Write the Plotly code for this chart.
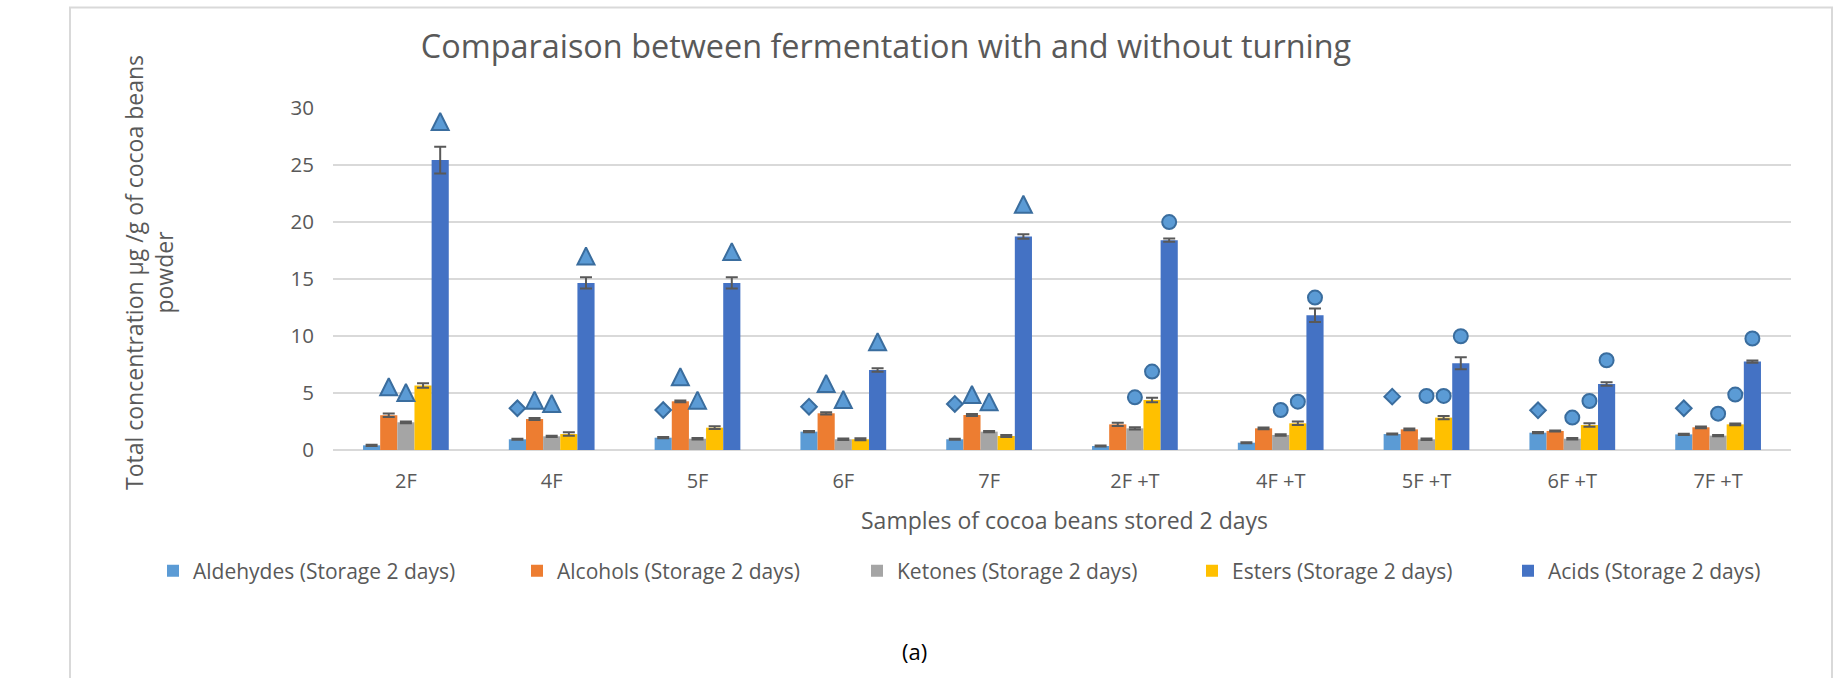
import plotly.graph_objects as go

# ---- data -------------------------------------------------------------
samples = ["2F", "4F", "5F", "6F", "7F", "2F +T", "4F +T", "5F +T", "6F +T", "7F +T"]

series_names = [
    "Aldehydes (Storage 2 days)",
    "Alcohols (Storage 2 days)",
    "Ketones (Storage 2 days)",
    "Esters (Storage 2 days)",
    "Acids (Storage 2 days)",
]
series_colors = ["#5B9BD5", "#ED7D31", "#A5A5A5", "#FFC000", "#4472C4"]

aldehydes = [0.41, 0.94, 1.08, 1.61, 0.94, 0.35, 0.64, 1.40, 1.52, 1.37]
alcohols = [3.05, 2.72, 4.27, 3.22, 3.07, 2.25, 1.90, 1.81, 1.67, 1.99]
ketones = [2.43, 1.20, 0.99, 0.94, 1.61, 1.90, 1.32, 0.94, 0.99, 1.26]
esters = [5.65, 1.40, 1.96, 0.94, 1.23, 4.39, 2.34, 2.84, 2.19, 2.25]
acids = [25.43, 14.66, 14.66, 7.02, 18.73, 18.41, 11.82, 7.61, 5.79, 7.76]

aldehydes_err = [0.05, 0.05, 0.05, 0.05, 0.05, 0.05, 0.05, 0.05, 0.05, 0.05]
alcohols_err = [0.15, 0.08, 0.08, 0.10, 0.08, 0.15, 0.08, 0.08, 0.05, 0.08]
ketones_err = [0.08, 0.06, 0.06, 0.06, 0.06, 0.10, 0.06, 0.06, 0.06, 0.06]
esters_err = [0.20, 0.15, 0.12, 0.08, 0.08, 0.20, 0.15, 0.15, 0.15, 0.08]
acids_err = [1.17, 0.50, 0.50, 0.15, 0.20, 0.15, 0.60, 0.53, 0.15, 0.10]

# significance marks above the bars: T = triangle, D = diamond, C = circle
aldehydes_sig = [None, "D", "D", "D", "D", None, None, "D", "D", "D"]
aldehydes_sig_y = [None, 3.66, 3.51, 3.80, 4.04, None, None, 4.68, 3.48, 3.66]
alcohols_sig = ["T", "T", "T", "T", "T", None, None, None, None, None]
alcohols_sig_y = [6.29, 5.12, 7.17, 6.58, 5.62, None, None, None, None, None]
ketones_sig = ["T", "T", "T", "T", "T", "C", "C", "C", "C", "C"]
ketones_sig_y = [5.79, 4.83, 5.12, 5.18, 4.97, 4.62, 3.51, 4.74, 2.84, 3.19]
esters_sig = [None, None, None, None, None, "C", "C", "C", "C", "C"]
esters_sig_y = [None, None, None, None, None, 6.88, 4.24, 4.74, 4.30, 4.86]
acids_sig = ["T", "T", "T", "T", "T", "C", "C", "C", "C", "C"]
acids_sig_y = [29.56, 17.76, 18.15, 10.24, 22.30, 19.99, 13.37, 9.98, 7.87, 9.78]

values = [aldehydes, alcohols, ketones, esters, acids]
errors = [aldehydes_err, alcohols_err, ketones_err, esters_err, acids_err]
sig_marks = [aldehydes_sig, alcohols_sig, ketones_sig, esters_sig, acids_sig]
sig_heights = [aldehydes_sig_y, alcohols_sig_y, ketones_sig_y, esters_sig_y, acids_sig_y]

symbol_of = {"T": "arrow-up", "D": "diamond", "C": "circle", None: "circle"}
size_of = {"T": 17, "D": 12, "C": 14, None: 0}

# ---- page geometry (px) -------------------------------------------------
W, H = 1842, 678
L, R, T, B = 333, 51, 108, 228
PW, PH = W - L - R, H - T - B


def px(x):
    return (x - L) / PW


def py(y):
    return (H - B - y) / PH


GAP = 0.412
TEXT = "#595959"
FONT = "Open Sans"

fig = go.Figure()

legend_ids = ["legend", "legend2", "legend3", "legend4", "legend5"]
for i in range(5):
    fig.add_trace(go.Bar(
        name=series_names[i],
        x=samples,
        y=values[i],
        marker=dict(color=series_colors[i], line=dict(width=0)),
        error_y=dict(type="data", array=errors[i], visible=True,
                     color="#595959", thickness=2, width=6),
        offsetgroup=str(i),
        legend=legend_ids[i],
    ))

for i in range(5):
    fig.add_trace(go.Scatter(
        x=samples,
        y=sig_heights[i],
        mode="markers",
        offsetgroup=str(i),
        showlegend=False,
        hoverinfo="skip",
        cliponaxis=False,
        marker=dict(
            symbol=[symbol_of[s] for s in sig_marks[i]],
            size=[size_of[s] for s in sig_marks[i]],
            color="#5B9BD5",
            opacity=1,
            line=dict(color="#3A6D9E", width=2),
        ),
    ))

legend_x = [172, 536, 876, 1211, 1527]
legends = {}
for lid, lx in zip(legend_ids, legend_x):
    legends[lid] = dict(
        x=px(lx - 19), y=py(571), xanchor="left", yanchor="middle",
        orientation="h", bgcolor="rgba(0,0,0,0)",
        font=dict(family=FONT, size=21, color=TEXT),
        itemwidth=30,
    )

fig.update_layout(
    width=W, height=H,
    margin=dict(l=L, r=R, t=T, b=B),
    paper_bgcolor="white", plot_bgcolor="white",
    barmode="group", bargap=GAP, bargroupgap=0,
    scattermode="group", scattergap=GAP,
    font=dict(family=FONT, color=TEXT),
    title=dict(
        text="Comparaison between fermentation with and without turning",
        xref="container", yref="container",
        x=886 / W, y=1 - 47 / H, xanchor="center", yanchor="middle",
        font=dict(family=FONT, size=32.4, color=TEXT),
    ),
    **legends,
)

fig.update_yaxes(
    range=[0, 30], dtick=5, showgrid=True, gridcolor="#D9D9D9", gridwidth=2,
    zeroline=True, zerolinecolor="#D9D9D9", zerolinewidth=2,
    showline=False, ticks="", ticklabelstandoff=18,
    tickfont=dict(family=FONT, size=20.5, color=TEXT),
)
fig.update_xaxes(
    showline=False, showgrid=False, ticks="", ticklabelstandoff=17,
    tickfont=dict(family=FONT, size=20, color=TEXT),
)

annotations = [
    dict(text="Total concentration µg /g of cocoa beans<br>powder",
         x=px(149), y=py(273), textangle=-90,
         font=dict(family=FONT, size=23, color=TEXT)),
    dict(text="Samples of cocoa beans stored 2 days",
         x=px(1064), y=py(520),
         font=dict(family=FONT, size=23, color=TEXT)),
    dict(text="(a)", x=px(914), y=py(651),
         font=dict(family=FONT, size=22, color="#000000")),
]
for a in annotations:
    a.update(xref="paper", yref="paper", showarrow=False,
             xanchor="center", yanchor="middle")
fig.update_layout(annotations=annotations)

# light frame around the chart
fig.add_shape(type="rect", xref="paper", yref="paper",
              x0=px(70), x1=px(1832), y0=py(720), y1=py(7.5),
              line=dict(color="#D9D9D9", width=2), layer="below")

fig.write_html("out.html")
